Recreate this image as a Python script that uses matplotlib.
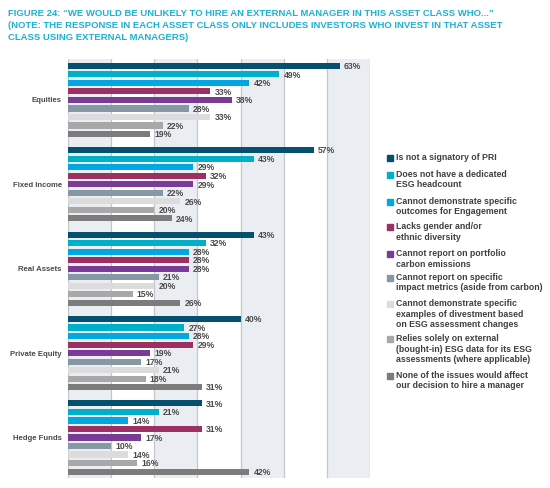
import matplotlib
matplotlib.use("Agg")
import matplotlib.pyplot as plt
from matplotlib.patches import Rectangle
import numpy as np

categories = ["Equities", "Fixed Income", "Real Assets", "Private Equity", "Hedge Funds"]
series_labels = [
    "Is not a signatory of PRI",
    "Does not have a dedicated\nESG headcount",
    "Cannot demonstrate specific\noutcomes for Engagement",
    "Lacks gender and/or\nethnic diversity",
    "Cannot report on portfolio\ncarbon emissions",
    "Cannot report on specific\nimpact metrics (aside from carbon)",
    "Cannot demonstrate specific\nexamples of divestment based\non ESG assessment changes",
    "Relies solely on external\n(bought-in) ESG data for its ESG\nassessments (where applicable)",
    "None of the issues would affect\nour decision to hire a manager",
]
colors = ["#05506e", "#00b0c9", "#00a7e3", "#9c3063", "#7a3b97",
          "#8598a4", "#dcdcdc", "#a8a8a8", "#7c7c7c"]

equities = [63, 49, 42, 33, 38, 28, 33, 22, 19]
fixed_income = [57, 43, 29, 32, 29, 22, 26, 20, 24]
real_assets = [43, 32, 28, 28, 28, 21, 20, 15, 26]
private_equity = [40, 27, 28, 29, 19, 17, 21, 18, 31]
hedge_funds = [31, 21, 14, 31, 17, 10, 14, 16, 42]
values = np.array([equities, fixed_income, real_assets, private_equity, hedge_funds])

W, H = 550, 488
plt.rcParams['font.family'] = ['Liberation Sans', 'DejaVu Sans']
fig = plt.figure(figsize=(W / 100, H / 100), dpi=100)


def fx(x):
    return x / W


def fy(y):
    return 1 - y / H


ax = fig.add_axes([fx(68), fy(478), fx(370) - fx(68), fy(59) - fy(478)])

group_step = 9.9
n = len(series_labels)

for i in range(n):
    pos = np.arange(len(categories)) * group_step + i
    vals = values[:, i]
    ax.barh(pos, vals, height=0.72, color=colors[i], zorder=3)
    for p, v in zip(pos, vals):
        ax.annotate(f"{v}%", (v, p), xytext=(3, -0.5), textcoords="offset points",
                    ha="left", va="center", fontsize=6.2, fontweight="bold",
                    color="#4a4a4a", zorder=4)

for lo in (0, 20, 40, 60):
    ax.axvspan(lo, lo + 10, color="#eaeef3", zorder=0, lw=0)
for x in range(0, 71, 10):
    ax.axvline(x, color="#c3c7cb", lw=0.9, zorder=1)

ax.set_xlim(0, 70)
ax.set_ylim(4 * group_step + 8 + 0.75, -0.8)
ax.set_xticks([])
ax.set_yticks(np.arange(len(categories)) * group_step + 4)
ax.set_yticklabels(categories, fontsize=5.6, fontweight="bold", color="#4a4a4a")
ax.tick_params(axis="y", length=0, pad=4.5)
for s in ax.spines.values():
    s.set_visible(False)

# Title
title_lines = [
    "FIGURE 24: \u201cWE WOULD BE UNLIKELY TO HIRE AN EXTERNAL MANAGER IN THIS ASSET CLASS WHO...\u201d",
    "(NOTE: THE RESPONSE IN EACH ASSET CLASS ONLY INCLUDES INVESTORS WHO INVEST IN THAT ASSET",
    "CLASS USING EXTERNAL MANAGERS)",
]
for k, line in enumerate(title_lines):
    fig.text(fx(8), fy(13 + 12.5 * k), line, fontsize=6.8, fontweight="bold",
             color="#1cb1d2", ha="left", va="center")

# Legend
leg_y = [158.3, 175, 201.7, 227.3, 254.3, 277.7, 304.3, 339.3, 376]
sq = 6
for lab, col, y in zip(series_labels, colors, leg_y):
    fig.patches.append(Rectangle((fx(387), fy(y + sq / 2)), sq / W, sq / H,
                                 transform=fig.transFigure, color=col))
    fig.text(fx(396), fy(y - 5), lab, fontsize=6.3, fontweight="bold",
             color="#3f3f3f", ha="left", va="top", linespacing=1.2)

fig.savefig("out.png", dpi=100)
